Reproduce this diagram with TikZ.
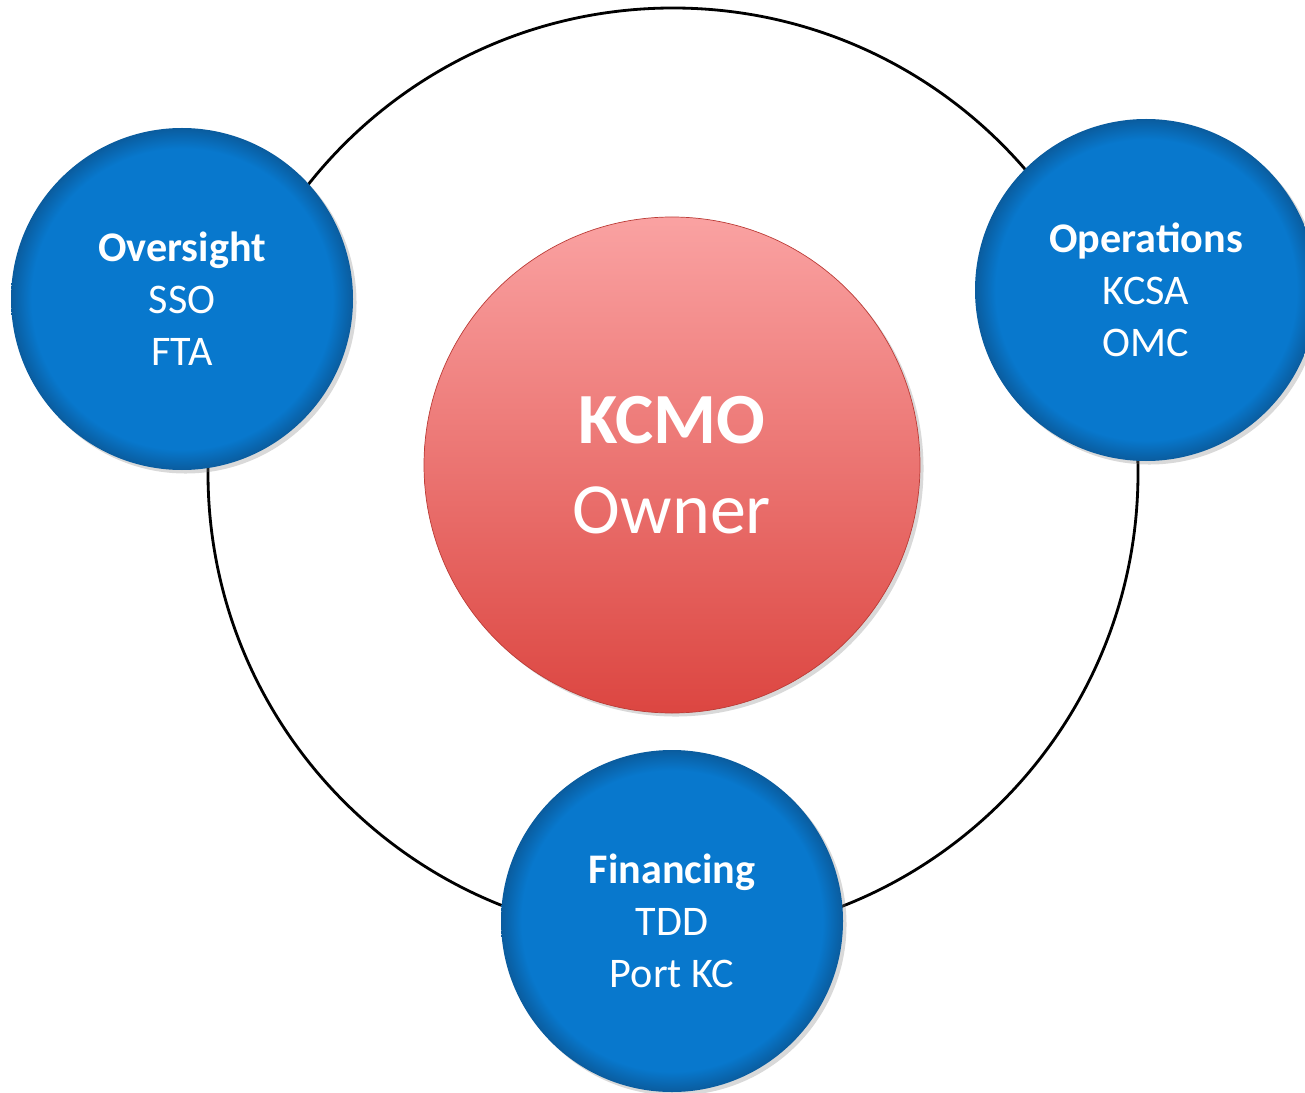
\documentclass[tikz,border=0pt]{standalone}
\usepackage{fontspec}
\setmainfont{Carlito}
\usetikzlibrary{shadows}
\definecolor{satblue}{HTML}{0878CD}
\definecolor{satedge}{HTML}{0A5C9E}
\definecolor{hubtop}{HTML}{FAA2A2}
\definecolor{hubbot}{HTML}{DC4641}
\pgfdeclareradialshading{satdisc}{\pgfpoint{0bp}{0bp}}{color(0bp)=(satblue); color(22bp)=(satblue); color(25bp)=(satedge); color(50bp)=(satedge)}

\begin{document}
\begin{tikzpicture}[every node/.style={circle, inner sep=0pt, text=white, align=center},
  sat/.style={minimum size=6.84cm, shading=satdisc, drop shadow={opacity=0.3, shadow xshift=2pt, shadow yshift=-2pt},
    font=\fontsize{24pt}{29.6pt}\selectfont},
  hub/.style={minimum size=9.92cm, top color=hubtop, bottom color=hubbot, draw=hubbot!85!black, line width=0.4pt,
    drop shadow={opacity=0.3, shadow xshift=2pt, shadow yshift=-2pt}, font=\fontsize{41pt}{51.2pt}\selectfont}]
\useasboundingbox (0,0) rectangle (26.1,-21.86);
\node[draw=black, line width=1.6pt, minimum size=18.6cm] (ring) at (13.46,-9.46) {};
\node[hub] (kcmo) at (13.44,-9.3) {\textbf{KCMO}\\Owner};
\node[sat] (over) at (3.64,-5.98) {\textbf{Oversight}\\SSO\\FTA};
\node[sat] (ops) at (22.92,-5.8) {\textbf{Operations}\\KCSA\\OMC};
\node[sat] (fin) at (13.44,-18.42) {\textbf{Financing}\\TDD\\Port KC};
\end{tikzpicture}
\end{document}
